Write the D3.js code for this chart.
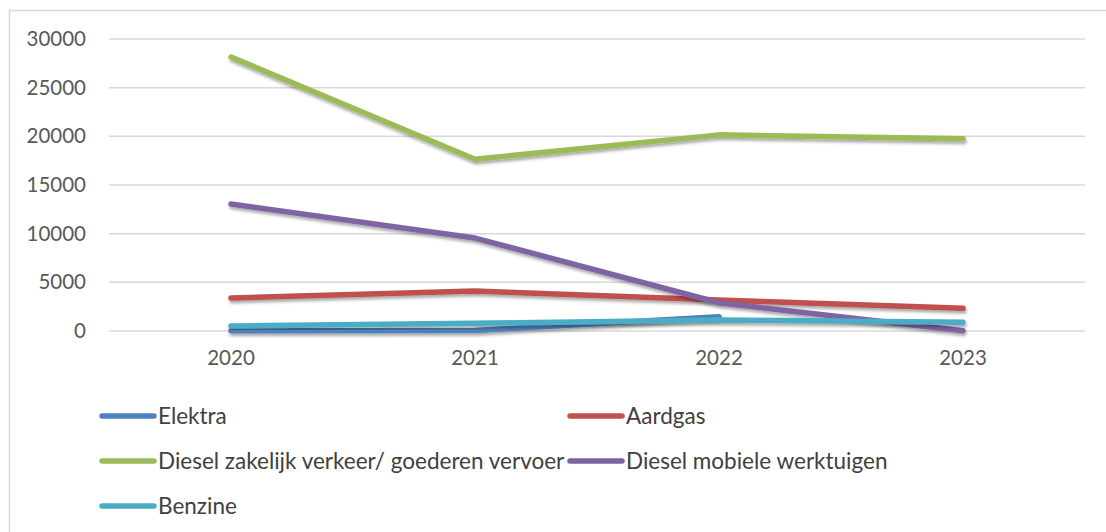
<!DOCTYPE html>
<html>
<head>
<meta charset="utf-8">
<script src="https://cdn.jsdelivr.net/npm/d3@7"></script>
<style>
  body { margin: 0; background: #fff; }
  svg { display: block; }
</style>
</head>
<body>
<svg id="chart" width="1106" height="532"></svg>
<script>
// data
const years = ["2020", "2021", "2022", "2023"];
const elektra = [30, 60, 1470, null];
const aardgas = [3390, 4110, 3180, 2330];
const dieselZakelijk = [28150, 17650, 20150, 19750];
const dieselMobiel = [13050, 9550, 2900, 30];
const benzine = [510, 790, 1130, 890];
const yTicks = [0, 5000, 10000, 15000, 20000, 25000, 30000];

const series = [
    {name: "Elektra", values: elektra, color: "#4f81bd"},
    {name: "Aardgas", values: aardgas, color: "#c0504d"},
    {name: "Diesel zakelijk verkeer/ goederen vervoer", values: dieselZakelijk, color: "#9bbb59"},
    {name: "Diesel mobiele werktuigen", values: dieselMobiel, color: "#8064a2"},
    {name: "Benzine", values: benzine, color: "#4bacc6"}
];

const svg = d3.select("#chart");
const font = "Lato, 'Open Sans', sans-serif";

// chart frame (Excel style border)
svg.append("path")
    .attr("d", "M9.5,540 V10.5 H1110")
    .attr("fill", "none")
    .attr("stroke", "#d9d9d9")
    .attr("stroke-width", 1.5);

const plot = {left: 109, right: 1085, top: 39, bottom: 331};

const x = d3.scaleBand().domain(years).range([plot.left, plot.right]);
const y = d3.scaleLinear().domain([0, 30000]).range([plot.bottom, plot.top]);

// drop shadow like the original
const defs = svg.append("defs");
const f = defs.append("filter").attr("id", "shadow")
    .attr("x", "-10%").attr("y", "-50%").attr("width", "120%").attr("height", "200%");
f.append("feDropShadow")
    .attr("dx", 1).attr("dy", 2.5).attr("stdDeviation", 1.6)
    .attr("flood-color", "#000").attr("flood-opacity", 0.35);

// gridlines
svg.append("g")
    .selectAll("line")
    .data(yTicks)
    .join("line")
    .attr("x1", plot.left)
    .attr("x2", plot.right)
    .attr("y1", d => y(d))
    .attr("y2", d => y(d))
    .attr("stroke", "#d9d9d9")
    .attr("stroke-width", 1.5);

// y axis labels
const yAxis = svg.append("g")
    .attr("transform", "translate(" + (plot.left - 23) + ",0)")
    .call(d3.axisLeft(y).tickValues(yTicks).tickSize(0).tickPadding(0).tickFormat(d3.format("d")));
yAxis.select(".domain").remove();
yAxis.selectAll("text")
    .attr("font-family", font)
    .attr("font-size", "20.5px")
    .attr("fill", "#595959");

// x axis labels
const xAxis = svg.append("g")
    .attr("transform", "translate(0," + plot.bottom + ")")
    .call(d3.axisBottom(x).tickSize(0).tickPadding(19));
xAxis.select(".domain").remove();
xAxis.selectAll("text")
    .attr("font-family", font)
    .attr("font-size", "20.5px")
    .attr("fill", "#595959");

const line = d3.line()
    .defined(d => d != null)
    .x((d, i) => x(years[i]) + x.bandwidth() / 2)
    .y(d => y(d));

svg.append("g")
    .selectAll("path")
    .data(series)
    .join("path")
    .attr("d", d => line(d.values))
    .attr("fill", "none")
    .attr("stroke", d => d.color)
    .attr("stroke-width", 5.5)
    .attr("stroke-linecap", "round")
    .attr("stroke-linejoin", "round")
    .attr("filter", "url(#shadow)");

// legend, two columns
const legendPos = [[100, 416], [568, 416], [100, 461], [568, 461], [100, 506]];
const legend = svg.append("g")
    .selectAll("g")
    .data(series)
    .join("g")
    .attr("transform", (d, i) => "translate(" + legendPos[i][0] + "," + legendPos[i][1] + ")");

legend.append("line")
    .attr("x1", 2).attr("x2", 54)
    .attr("stroke", d => d.color)
    .attr("stroke-width", 5.5)
    .attr("stroke-linecap", "round");

legend.append("text")
    .attr("x", 58)
    .attr("dy", "0.35em")
    .attr("font-family", font)
    .attr("font-size", "22.5px")
    .attr("fill", "#404040")
    .text(d => d.name);
</script>
</body>
</html>
